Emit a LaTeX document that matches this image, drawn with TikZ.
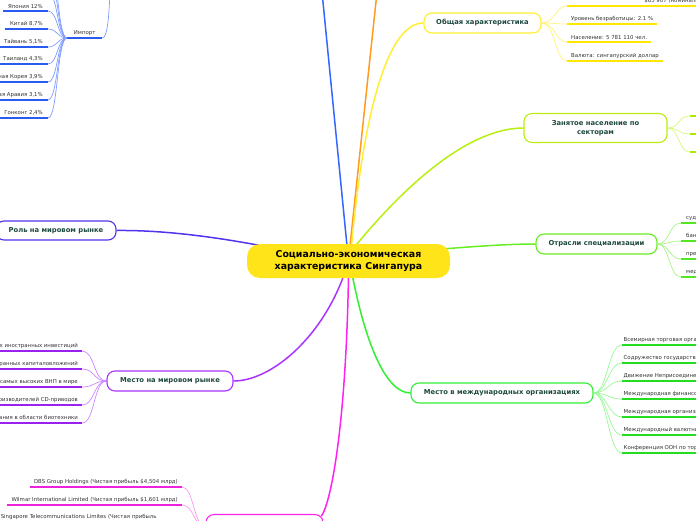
\documentclass[tikz,border=0pt]{standalone}
\usepackage{fontspec}
\setmainfont{DejaVu Sans}
\usetikzlibrary{calc,backgrounds}
\definecolor{cyel}{HTML}{FFE41A}
\definecolor{btext}{HTML}{1F4A40}
\definecolor{leafc}{HTML}{333333}
\definecolor{cblue}{HTML}{3366FF}
\definecolor{bul}{HTML}{2A5BF0}
\definecolor{bfan}{HTML}{7F9CFF}
\definecolor{corange}{HTML}{FF9A22}
\definecolor{cyellow}{HTML}{FFEE33}
\definecolor{yul}{HTML}{FFE800}
\definecolor{yfan}{HTML}{FFF27A}
\definecolor{clime}{HTML}{B8EE11}
\definecolor{lul}{HTML}{AEEA00}
\definecolor{lfan}{HTML}{D4F77A}
\definecolor{cgreen}{HTML}{66EE22}
\definecolor{gul}{HTML}{55E622}
\definecolor{gfan}{HTML}{A8F585}
\definecolor{cgreenb}{HTML}{33EE33}
\definecolor{mul}{HTML}{22DD22}
\definecolor{mfan}{HTML}{99F799}
\definecolor{cpurple}{HTML}{AA33FF}
\definecolor{pul}{HTML}{9922EE}
\definecolor{pfan}{HTML}{CC88FF}
\definecolor{cindigo}{HTML}{5533EE}
\definecolor{cmag}{HTML}{FF22EE}
\definecolor{mgul}{HTML}{EE22DD}
\definecolor{mgfan}{HTML}{FF99F0}
\tikzset{
  leaf/.style={font=\fontsize{5.4}{6.6}\selectfont, text=leafc, inner xsep=4pt, inner ysep=2.5pt},
  ul/.style={line width=1.8pt, draw=#1},
  fan/.style={line width=0.7pt, draw=#1},
  trunk/.style={line width=1.5pt, draw=#1},
  branch/.style={draw=#1, line width=1.1pt, rounded corners=8pt, fill=white, minimum height=20pt,
    font=\fontsize{6.8}{8.4}\selectfont\bfseries, text=btext, inner sep=2pt, align=center},
}
\begin{document}
\begin{tikzpicture}[x=1pt,y=-1pt]
\clip (0,0) rectangle (696,520);

% central node
\node[fill=cyel, rounded corners=13pt, minimum width=203pt, minimum height=34pt,
  font=\fontsize{9.4}{12}\selectfont\bfseries, align=center, inner sep=2pt] (c) at (348.5,261)
  {Социально-экономическая\\характеристика Сингапура};

% branch nodes
\node[branch=cyellow, minimum width=117pt] (gen) at (482.5,23) {Общая характеристика};
\node[branch=clime, minimum width=143pt, minimum height=29pt] (emp) at (595.5,128) {Занятое население по\\секторам};
\node[branch=cgreen, minimum width=121pt] (spec) at (596.5,244) {Отрасли специализации};
\node[branch=cgreenb, minimum width=182pt] (intl) at (502,393) {Место в международных организациях};
\node[branch=cpurple, minimum width=126pt] (wm) at (170,381) {Место на мировом рынке};
\node[branch=cindigo, minimum width=120pt, minimum height=19pt] (role) at (56,230.5) {Роль на мировом рынке};
\node[branch=cmag, minimum width=117pt, minimum height=24pt] (comp) at (264.5,526.5) {Крупнейшие компании};

\coordinate (tb) at (322.5,-3);
\coordinate (to) at (376.5,-3);
\coordinate (tp) at (110,-5);

% trunk connectors
\begin{pgfonlayer}{background}
\draw[trunk=cblue] ($(c.north)+(-1.5,2)$) -- (tb);
\draw[trunk=corange] ($(c.north)+(1.5,2)$) -- (to);
\draw[trunk=cyellow] ($(c.north)+(3,2)$) .. controls (364,110) and (388,23) .. (gen.west);
\draw[trunk=clime] ($(c.north)+(7,2)$) .. controls (408,182) and (470,128) .. (emp.west);
\draw[trunk=cgreen] ($(c.east)+(-8,-12)$) .. controls (480,246) and (510,244) .. (spec.west);
\draw[trunk=cgreenb] ($(c.south)+(4,-2)$) .. controls (365,340) and (385,393) .. (intl.west);
\draw[trunk=cpurple] ($(c.south)+(-5,-2)$) .. controls (320,340) and (270,381) .. (wm.east);
\draw[trunk=cmag] ($(c.south)+(0,-2)$) .. controls (346,420) and (332,500) .. ($(comp.north east)+(-2,2)$);
\draw[trunk=cindigo] ($(c.north west)+(15,2)$) .. controls (210,236) and (160,230) .. (role.east);
\end{pgfonlayer}

% Общая характеристика leaves
\node[leaf, anchor=south west, text width=214pt, align=center] (g1) at (567,6)
  {ВВП на душу населения: \$90 531 (ППС),\\\$65 907 (номинальный)};
\draw[ul=yul] (g1.south west) -- (g1.south east);
\draw[fan=yfan] (gen.east) .. controls +(14,0) and +(-12,0) .. (g1.south west);
\foreach \n/\y/\t in {g2/24/{Уровень безработицы: 2.1 \%},
                      g3/42/{Население: 5 781 110 чел.},
                      g4/61/{Валюта: сингапурский доллар}}{
  \node[leaf, anchor=south west] (\n) at (567,\y) {\t};
  \draw[ul=yul] (\n.south west) -- (\n.south east);
  \draw[fan=yfan] (gen.east) .. controls +(14,0) and +(-12,0) .. (\n.south west);
}

% Занятое население leaves
\foreach \n/\y/\t in {e1/116/{Сфера услуг},
                      e2/134/{Промышленность},
                      e3/152/{Сельское хозяйство}}{
  \node[leaf, anchor=south west, inner xsep=7pt] (\n) at (690,\y) {\t};
  \draw[ul=lul] (\n.south west) -- (\n.south east);
  \draw[fan=lfan] (emp.east) .. controls +(12,0) and +(-12,0) .. (\n.south west);
}

% Отрасли специализации leaves
\foreach \n/\y/\t in {s1/223/{судостроение},
                      s2/241/{банковское дело},
                      s3/259/{предоставление услуг},
                      s4/277/{медицина}}{
  \node[leaf, anchor=south west, inner xsep=5pt] (\n) at (681,\y) {\t};
  \draw[ul=gul] (\n.south west) -- (\n.south east);
  \draw[fan=gfan] (spec.east) .. controls +(12,0) and +(-12,0) .. (\n.south west);
}

% Место в международных организациях leaves
\foreach \n/\y/\t in {m1/345/{Всемирная торговая организация},
                      m2/363/{Содружество государств (Commonwealth)},
                      m3/381/{Движение Неприсоединения},
                      m4/399/{Международная финансовая корпорация},
                      m5/417/{Международная организация труда},
                      m6/435/{Международный валютный фонд},
                      m7/453/{Конференция ООН по торговле и развитию}}{
  \node[leaf, anchor=south west, inner xsep=1.5pt] (\n) at (622,\y) {\t};
  \draw[ul=mul] (\n.south west) -- (\n.south east);
  \draw[fan=mfan] (intl.east) .. controls +(14,0) and +(-14,0) .. (\n.south west);
}

% Место на мировом рынке leaves
\foreach \n/\y/\t in {w1/351/{Один из крупнейших получателей прямых иностранных инвестиций},
                      w2/369/{Один из крупнейших источников иностранных капиталовложений},
                      w3/387/{Один из самых высоких ВНП в мире},
                      w4/405/{Один из крупнейших производителей CD-приводов},
                      w5/423/{Центр исследования в области биотехники}}{
  \node[leaf, anchor=south east] (\n) at (82,\y) {\t};
  \draw[ul=pul] (\n.south west) -- (\n.south east);
  \draw[fan=pfan] (wm.west) .. controls +(-13,0) and +(13,0) .. (\n.south east);
}

% Импорт
\node[leaf, anchor=south west, minimum width=35pt] (imp) at (67,38) {Импорт};
\draw[ul=bul] (imp.south west) -- (imp.south east);
\draw[fan=bfan] (imp.south east) .. controls +(6,0) and +(-1,12) .. (tp);
\foreach \n/\y/\t in {i0/-43/{Малайзия 13,3\%},
                      i1/-25/{США 11,7\%},
                      i2/-7/{Индонезия 5,4\%},
                      i3/11/{Япония 12\%},
                      i4/29/{Китай 8,7\%},
                      i5/47/{Тайвань 5,1\%},
                      i6/64/{Таиланд 4,3\%},
                      i7/82/{Южная Корея 3,9\%},
                      i8/100/{Саудовская Аравия 3,1\%},
                      i9/118/{Гонконг 2,4\%}}{
  \node[leaf, anchor=south east, inner xsep=5pt] (\n) at (48,\y) {\t};
  \draw[ul=bul] (\n.south west) -- (\n.south east);
  \draw[fan=bfan] (imp.south west) .. controls +(-10,0) and +(10,0) .. (\n.south east);
}

% Крупнейшие компании leaves
\foreach \n/\y/\t in {k1/487/{DBS Group Holdings (Чистая прибыль \$4,504 млрд)},
                      k2/505/{Wilmar International Limited (Чистая прибыль \$1,601 млрд)}}{
  \node[leaf, anchor=south east] (\n) at (182,\y) {\t};
  \draw[ul=mgul] (\n.south west) -- (\n.south east);
  \draw[fan=mgfan] (comp.west) .. controls +(-12,0) and +(12,0) .. (\n.south east);
}
\node[leaf, anchor=south east, text width=177pt, align=left] (k3) at (182,529)
  {Singapore Telecommunications Limites (Чистая прибыль\\\$2,760 млрд)};
\draw[ul=mgul] (k3.south west) -- (k3.south east);
\draw[fan=mgfan] (comp.west) .. controls +(-12,0) and +(12,0) .. (k3.south east);
\end{tikzpicture}
\end{document}
